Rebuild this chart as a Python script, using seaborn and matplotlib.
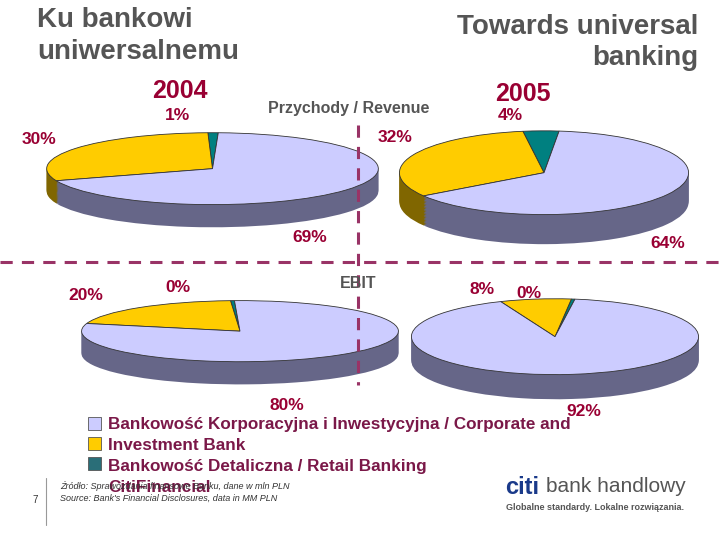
import matplotlib
matplotlib.use("Agg")
import matplotlib.pyplot as plt
import seaborn as sns
from matplotlib.lines import Line2D
from matplotlib.patches import Rectangle

sns.set_theme(style="white")
plt.rcParams['font.family'] = ['Liberation Sans', 'DejaVu Sans']

segments = ["Retail", "Investment", "Corporate"]
rev_2004 = [1, 30, 69]
rev_2005 = [4, 32, 64]
ebit_2004 = [0.4, 20, 79.6]
ebit_2005 = [0.4, 8, 91.6]
top_colors = ["#008080", "#ffcc00", "#ccccff"]
side_colors = ["#004848", "#806600", "#666688"]
lab_col = "#990033"
leg_col = "#7a1848"
gray = "#555555"

fig = plt.figure(figsize=(7.2, 5.4), dpi=100)
W, H = 720, 540

def pie3d(vals, x0, x1, ytop, yface, ybot, start):
    ax = fig.add_axes([x0 / W, 1 - ybot / H, (x1 - x0) / W, (ybot - ytop) / H])
    face = yface - ytop
    depth = 2 * (ybot - yface) / face
    n = 20
    for i in range(n, 0, -1):
        off = depth * i / n
        ax.pie(vals, colors=side_colors, startangle=start, counterclock=True,
               center=(0, -off), radius=1, wedgeprops=dict(linewidth=0))
    ax.pie(vals, colors=top_colors, startangle=start, counterclock=True,
           center=(0, 0), radius=1, wedgeprops=dict(linewidth=0.6, edgecolor="#333333"))
    ax.set_aspect("auto")
    ax.set_xlim(-1.01, 1.01)
    ax.set_ylim(-1 - depth - 0.02, 1.02)
    ax.axis("off")

pie3d(rev_2004, 45, 380, 132, 205, 228, 88)
pie3d(rev_2005, 398, 690, 130, 215, 245, 84)
pie3d(ebit_2004, 80, 400, 300, 362, 385, 92)
pie3d(ebit_2005, 410, 700, 298, 375, 400, 82)

def t(x, y, s, size=12, color=lab_col, weight="bold", ha="left", **kw):
    fig.text(x / W, 1 - y / H, s, fontsize=size, color=color, weight=weight,
             ha=ha, va="center", **kw)

t(37, 20, "Ku bankowi", 20, gray)
t(37, 52, "uniwersalnemu", 20, gray)
t(698, 27, "Towards universal", 20, gray, ha="right")
t(698, 58, "banking", 20, gray, ha="right")
t(152, 91, "2004", 18)
t(495, 94, "2005", 18)
t(268, 108, "Przychody / Revenue", 11.5, gray)
t(340, 283, "EBIT", 11.5, gray)

for x, y, s in [(165, 116, "1%"), (22, 140, "30%"), (378, 138, "32%"), (498, 116, "4%"),
                (292, 238, "69%"), (650, 243, "64%"), (68, 296, "20%"), (165, 287, "0%"),
                (470, 289, "8%"), (516, 293, "0%"), (270, 405, "80%"), (566, 412, "92%")]:
    t(x, y, s, 12.5)

fig.add_artist(Line2D([0, 1], [1 - 262 / H, 1 - 262 / H], color="#993366", lw=2.2,
                      linestyle=(0, (4, 3)), transform=fig.transFigure))
fig.add_artist(Line2D([358 / W, 358 / W], [1 - 125 / H, 1 - 385 / H], color="#993366",
                      lw=2.2, linestyle=(0, (4, 3)), transform=fig.transFigure))

legend_labels = ["Bankowość Korporacyjna i Inwestycyjna / Corporate and",
                 "Investment Bank", "Bankowość Detaliczna / Retail Banking", "CitiFinancial"]
for yy, c in [(423, "#ccccff"), (443, "#ffcc00"), (463, "#2a6e78")]:
    fig.add_artist(Rectangle((88 / W, 1 - (yy + 7) / H), 13 / W, 13 / H, facecolor=c,
                             edgecolor="#555555", lw=0.6, transform=fig.transFigure))
for yy, s in zip([424, 445, 466, 488], legend_labels):
    t(108, yy, s, 12.3, leg_col)

t(60, 486, "Źródło: Sprawozdania finansowe Banku, dane w mln PLN", 6.5, "#333333", weight="normal", style="italic")
t(60, 498, "Source: Bank's Financial Disclosures, data in MM PLN", 6.5, "#333333", weight="normal", style="italic")
t(32, 500, "7", 7, "#333333", weight="normal")
fig.add_artist(Line2D([46 / W, 46 / W], [1 - 478 / H, 1 - 525 / H], color="#999999", lw=0.8,
                      transform=fig.transFigure))
t(505, 487, "citi", 17, "#1a3a8a")
t(546, 487, "bank handlowy", 15, "#555555", weight="normal")
t(684, 507, "Globalne standardy. Lokalne rozwiązania.", 6.5, "#555555", ha="right")

fig.savefig("out.png", dpi=100)
